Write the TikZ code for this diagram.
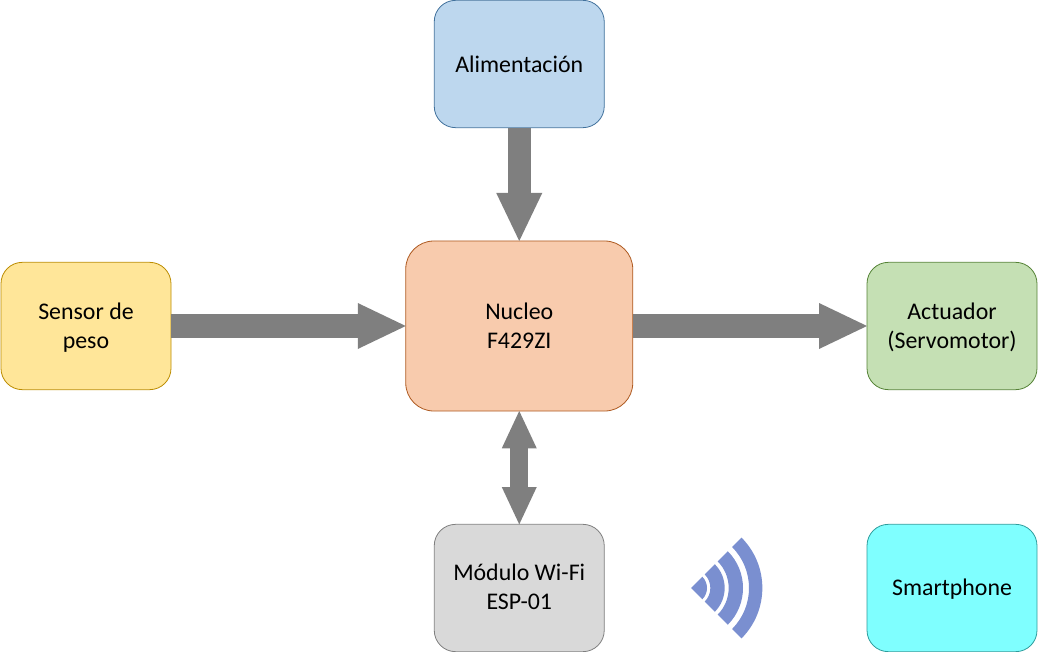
\documentclass[tikz,border=0pt]{standalone}
\usepackage{fontspec}
\setmainfont{Carlito}
\usetikzlibrary{arrows.meta}
\definecolor{arrowgrey}{HTML}{7F7F7F}
\definecolor{iconblue}{HTML}{7A8FD0}
\definecolor{alimfill}{HTML}{BDD7EE}
\definecolor{alimline}{HTML}{41719C}
\definecolor{nucfill}{HTML}{F8CBAD}
\definecolor{nucline}{HTML}{AE5A21}
\definecolor{senfill}{HTML}{FFE699}
\definecolor{senline}{HTML}{BC8C00}
\definecolor{actfill}{HTML}{C5E0B4}
\definecolor{actline}{HTML}{548235}
\definecolor{wififill}{HTML}{D9D9D9}
\definecolor{wifiline}{HTML}{7F7F7F}
\definecolor{phonefill}{HTML}{7FFFFF}
\definecolor{phoneline}{HTML}{2E9C9C}
\tikzset{
  x=0.75pt,y=-0.75pt,
  block/.style n args={2}{draw=#2,fill=#1,line width=0.6pt,outer sep=0pt,inner sep=0pt,align=center,
    font=\fontsize{17.9pt}{21.8pt}\selectfont,text=black},
  small/.style={minimum width=127.5pt,minimum height=95.5pt,rounded corners=16pt},
  big/.style={minimum width=170.25pt,minimum height=127.5pt,rounded corners=21pt},
  flow/.style={draw=arrowgrey,line width=17.5pt,-{Triangle[length=36pt,width=34.5pt,line width=0pt]}},
  duplex/.style={draw=arrowgrey,line width=13.5pt,{Triangle[length=28pt,width=26.25pt,line width=0pt]}-{Triangle[length=28pt,width=26.25pt,line width=0pt]}},
}
\newcommand{\lowline}[2][1.9pt]{\raisebox{-#1}[12pt][4pt]{#2}}
\newcommand{\wave}[2]{\fill[iconblue] ([shift={(45:#2pt)}]apex) arc[start angle=45,end angle=-45,radius=#2pt]
  -- ([shift={(-45:#1pt)}]apex) arc[start angle=-45,end angle=45,radius=#1pt] -- cycle;}
\begin{document}
\begin{tikzpicture}
\useasboundingbox (0,0) rectangle (1038,652);
\node[block={alimfill}{alimline},small] (alim) at (519.25,64) {\lowline[2.6pt]{Alimentación}};
\node[block={nucfill}{nucline},big] (nucleo) at (519.25,326) {\lowline{Nucleo}\\\lowline{F429ZI}};
\node[block={senfill}{senline},small] (sensor) at (86,326) {\lowline{Sensor de}\\\lowline{peso}};
\node[block={actfill}{actline},small] (act) at (952,326) {\lowline{Actuador}\\\lowline{(Servomotor)}};
\node[block={wififill}{wifiline},small] (wifi) at (519.25,588) {\lowline[1.3pt]{Módulo Wi-Fi}\\\lowline[1.3pt]{ESP-01}};
\node[block={phonefill}{phoneline},small] (phone) at (952,588) {\lowline[1.75pt]{Smartphone}};
\draw[flow] (alim.south) -- (nucleo.north);
\draw[flow] (sensor.east) -- (nucleo.west);
\draw[flow] (nucleo.east) -- (act.west);
\draw[duplex] (nucleo.south) -- (wifi.north);
\coordinate (apex) at (691,588);
\fill[iconblue] (apex) -- ([shift={(45:12pt)}]apex) arc[start angle=45,end angle=-45,radius=12pt] -- cycle;
\wave{14.5}{25.25}
\wave{28.25}{39}
\wave{43.5}{53.5}
\end{tikzpicture}
\end{document}
